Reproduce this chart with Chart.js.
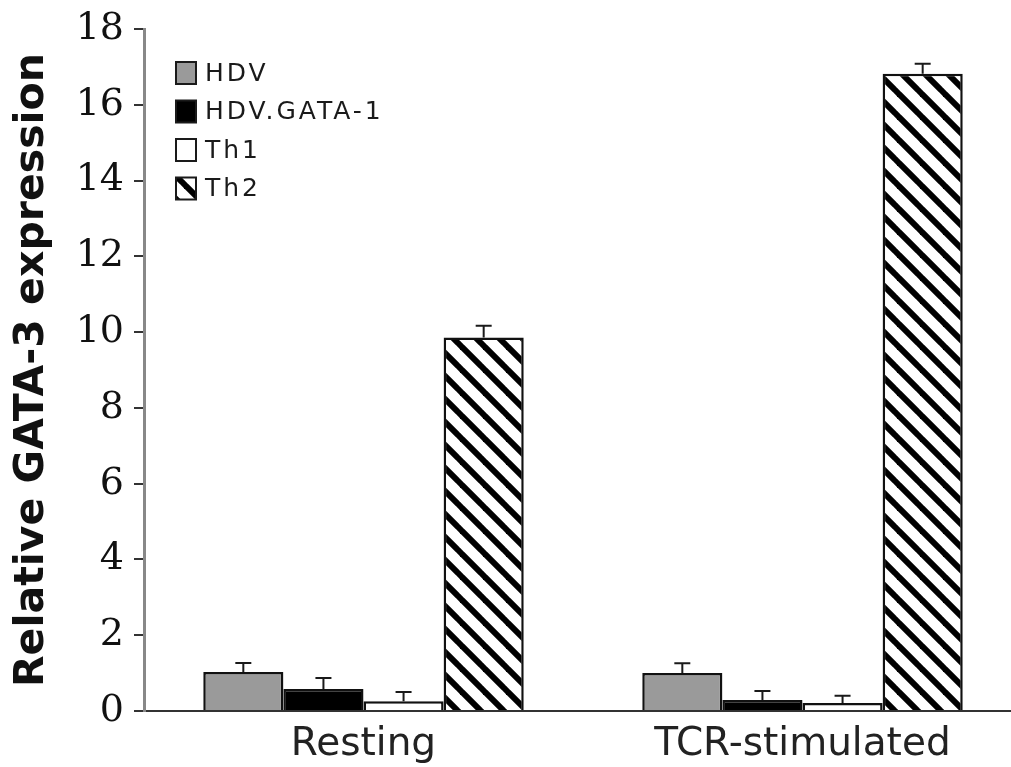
<!DOCTYPE html>
<html>
<head>
<meta charset="utf-8">
<script src="https://cdn.jsdelivr.net/npm/chart.js@4.4.1/dist/chart.umd.min.js"></script>
<style>
  html, body { margin: 0; padding: 0; background: #fff; overflow: hidden; }
  #wrap { width: 1011px; height: 767px; overflow: hidden; }
</style>
</head>
<body>
<div id="wrap"><canvas id="c" width="1022" height="767"></canvas></div>
<script>
// ---- data ----
const categories = ["Resting", "TCR-stimulated"];
const seriesNames = ["HDV", "HDV.GATA-1", "Th1", "Th2"];
const hdv = [1.03, 1.00];
const hdvGata1 = [0.58, 0.29];
const th1 = [0.26, 0.21];
const th2 = [9.86, 16.82];
const hdvErr = [0.24, 0.26];
const hdvGata1Err = [0.29, 0.24];
const th1Err = [0.24, 0.19];
const th2Err = [0.31, 0.26];
const yTicks = [0, 2, 4, 6, 8, 10, 12, 14, 16, 18];

// ---- stripe pattern ----
function makeStripes() {
  const s = 23;
  const c = document.createElement('canvas');
  c.width = s; c.height = s;
  const g = c.getContext('2d');
  g.fillStyle = '#fff';
  g.fillRect(0, 0, s, s);
  g.strokeStyle = '#000';
  g.lineWidth = 6;
  for (let k = -1; k <= 1; k++) {
    g.beginPath();
    g.moveTo(k * s - 2, -2);
    g.lineTo(k * s + s + 2, s + 2);
    g.stroke();
  }
  return document.getElementById('c').getContext('2d').createPattern(c, 'repeat');
}
const stripes = makeStripes();

const values = [hdv, hdvGata1, th1, th2];
const errs = [hdvErr, hdvGata1Err, th1Err, th2Err];
const fills = ['#9a9a9a', '#000000', '#ffffff', stripes];

const datasets = seriesNames.map((name, i) => ({
  label: name,
  data: values[i],
  err: errs[i],
  backgroundColor: fills[i],
  borderColor: '#111',
  borderWidth: 2.5,
  borderSkipped: 'bottom'
}));

const errorBars = {
  id: 'errorBars',
  afterDatasetsDraw(chart) {
    const ctx = chart.ctx;
    const y = chart.scales.y;
    ctx.save();
    ctx.strokeStyle = '#1a1a1a';
    ctx.lineWidth = 2;
    chart.data.datasets.forEach((ds, di) => {
      const meta = chart.getDatasetMeta(di);
      meta.data.forEach((el, i) => {
        const top = y.getPixelForValue(ds.data[i] + ds.err[i]);
        ctx.beginPath();
        ctx.moveTo(el.x, el.y);
        ctx.lineTo(el.x, top);
        ctx.moveTo(el.x - 8, top);
        ctx.lineTo(el.x + 8, top);
        ctx.stroke();
      });
    });
    ctx.restore();
  }
};

const innerLegend = {
  id: 'innerLegend',
  afterDraw(chart) {
    const ctx = chart.ctx;
    const a = chart.chartArea;
    ctx.save();
    ctx.font = '25px "DejaVu Sans"';
    ctx.letterSpacing = '3px';
    ctx.textBaseline = 'middle';
    chart.data.datasets.forEach((ds, i) => {
      const cy = a.top + 44 + i * 38.5;
      const bx = a.left + 32;
      ctx.fillStyle = ds.backgroundColor;
      ctx.fillRect(bx, cy - 11, 20, 22);
      ctx.strokeStyle = '#1a1a1a';
      ctx.lineWidth = 2;
      ctx.strokeRect(bx, cy - 11, 20, 22);
      ctx.fillStyle = '#1a1a1a';
      ctx.fillText(ds.label, bx + 29, cy + 1);
    });
    ctx.restore();
  }
};

new Chart(document.getElementById('c'), {
  type: 'bar',
  data: { labels: categories, datasets },
  options: {
    responsive: false,
    animation: false,
    layout: { padding: { top: 28, right: 0, bottom: 0, left: 0 } },
    plugins: { legend: { display: false }, tooltip: { enabled: false } },
    datasets: { bar: { categoryPercentage: 0.73, barPercentage: 1.0 } },
    scales: {
      x: {
        afterFit(s) { s.height = 56; },
        grid: { display: false },
        border: { display: true, color: '#333', width: 2 },
        ticks: { color: '#222', font: { family: 'DejaVu Sans', size: 39 }, padding: 2 }
      },
      y: {
        min: 0, max: 18,
        afterFit(s) { s.width = 144; },
        afterBuildTicks(s) { s.ticks = yTicks.map(v => ({ value: v })); },
        grid: { display: true, drawOnChartArea: false, drawTicks: true, tickLength: 10, color: '#333', lineWidth: 2 },
        border: { display: true, color: '#888', width: 3 },
        ticks: { color: '#111', font: { family: 'DejaVu Serif', size: 38, lineHeight: 1.0 }, padding: 10 },
        title: {
          display: true,
          text: 'Relative GATA-3 expression',
          color: '#111',
          font: { family: 'DejaVu Sans', size: 41, weight: 'bold' },
          padding: { top: 8, bottom: 0 }
        }
      }
    }
  },
  plugins: [errorBars, innerLegend]
});
</script>
</body>
</html>
